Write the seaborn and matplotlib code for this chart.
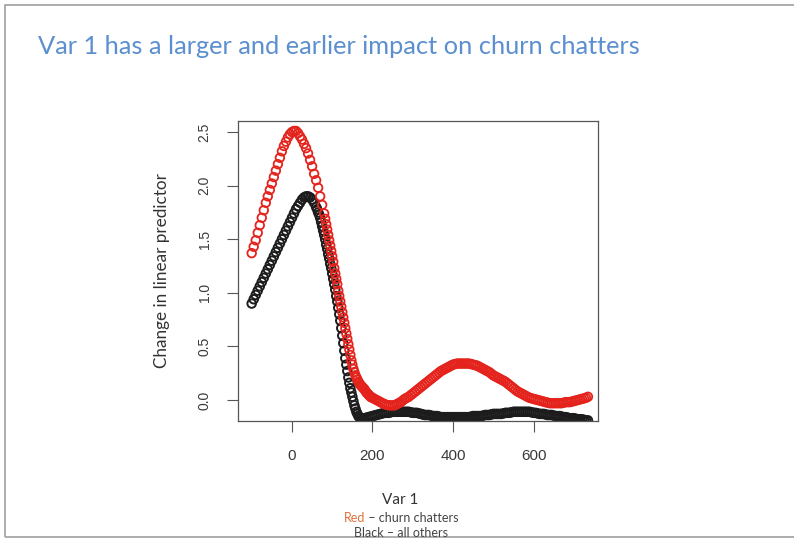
import numpy as np
import pandas as pd
import matplotlib
matplotlib.use('Agg')
import matplotlib.pyplot as plt
import seaborn as sns
from matplotlib.patches import Rectangle

# red = churn chatters, black = all others
red_x = [-100, -95, -90, -85, -80, -75, -70, -65, -60, -55, -50, -45, -40, -35, -30, -25, -20, -15,
         -10, -5, 0, 5, 10, 15, 20, 25, 30, 35, 40, 45, 50, 55, 60, 65, 70, 75,
         80, 82.5, 85, 87.5, 90, 92.5, 95, 97.5, 100, 102.5, 105, 107.5, 110, 112.5, 115, 117.5,
         120, 122.5, 125, 127.5, 130, 132.5, 135, 137.5, 140, 142.5, 145, 147.5, 150, 152.5, 155, 157.5,
         160, 162.5, 165, 167.5, 170, 172.5, 175, 177.5, 180, 182.5, 185, 187.5, 190, 192.5, 195, 197.5,
         200, 205, 210, 215, 220, 225, 230, 235, 240, 245, 250, 255,
         260, 265, 270, 275, 280, 285, 290, 295, 300, 305, 310, 315,
         320, 325, 330, 335, 340, 345, 350, 355, 360, 365, 370, 375,
         380, 385, 390, 395, 400, 405, 410, 415, 420, 425, 430, 435,
         440, 445, 450, 455, 460, 465, 470, 475, 480, 485, 490, 495,
         500, 505, 510, 515, 520, 525, 530, 535, 540, 545, 550, 555,
         560, 565, 570, 575, 580, 585, 590, 595, 600, 605, 610, 615,
         620, 625, 630, 635, 640, 645, 650, 655, 660, 665, 670, 675,
         680, 685, 690, 695, 700, 705, 710, 715, 720, 725, 730, 735]
red_y = [1.37, 1.43, 1.49, 1.56, 1.63, 1.70, 1.77, 1.84, 1.90, 1.96, 2.02, 2.08, 2.14, 2.20, 2.26, 2.32, 2.37, 2.41,
         2.45, 2.48, 2.50, 2.51, 2.51, 2.49, 2.46, 2.43, 2.39, 2.35, 2.30, 2.24, 2.18, 2.11, 2.05, 1.98, 1.90, 1.82,
         1.74, 1.69, 1.64, 1.59, 1.54, 1.49, 1.44, 1.39, 1.34, 1.29, 1.23, 1.18, 1.13, 1.08, 1.02, 0.97,
         0.92, 0.87, 0.82, 0.77, 0.72, 0.67, 0.62, 0.57, 0.52, 0.47, 0.42, 0.37, 0.33, 0.29, 0.26, 0.23,
         0.21, 0.19, 0.17, 0.155, 0.14, 0.13, 0.12, 0.11, 0.10, 0.085, 0.07, 0.06, 0.05, 0.04, 0.03, 0.025,
         0.02, 0.01, 0.00, -0.01, -0.02, -0.03, -0.04, -0.045, -0.05, -0.05, -0.05, -0.05,
         -0.04, -0.03, -0.02, -0.005, 0.01, 0.02, 0.03, 0.045, 0.06, 0.075, 0.09, 0.105,
         0.12, 0.135, 0.15, 0.165, 0.18, 0.195, 0.21, 0.225, 0.24, 0.255, 0.27, 0.28,
         0.29, 0.30, 0.31, 0.32, 0.33, 0.335, 0.34, 0.34, 0.34, 0.34, 0.34, 0.34,
         0.34, 0.335, 0.33, 0.325, 0.32, 0.31, 0.30, 0.29, 0.28, 0.27, 0.26, 0.245,
         0.23, 0.22, 0.21, 0.20, 0.19, 0.18, 0.17, 0.155, 0.14, 0.125, 0.11, 0.095,
         0.08, 0.07, 0.06, 0.05, 0.04, 0.03, 0.02, 0.015, 0.01, 0.005, 0.00, -0.005,
         -0.01, -0.015, -0.02, -0.025, -0.03, -0.03, -0.03, -0.03, -0.03, -0.03, -0.03, -0.025,
         -0.02, -0.02, -0.02, -0.015, -0.01, -0.005, 0.00, 0.005, 0.01, 0.015, 0.02, 0.03]

black_x = [-100, -95, -90, -85, -80, -75, -70, -65, -60, -55, -50, -45, -40, -35, -30, -25, -20, -15,
           -10, -5, 0, 5, 10, 15, 20, 25, 30, 35, 40, 45, 50, 55,
           60, 62.5, 65, 67.5, 70, 72.5, 75, 77.5, 80, 82.5, 85, 87.5, 90, 92.5, 95, 97.5,
           100, 102.5, 105, 107.5, 110, 112.5, 115, 117.5, 120, 122.5, 125, 127.5, 130, 132.5, 135, 137.5,
           140, 142.5, 145, 147.5, 150, 152.5, 155, 157.5, 160, 162.5, 165, 167.5, 170, 172.5, 175, 177.5,
           180, 185, 190, 195, 200, 205, 210, 215, 220, 225, 230, 235,
           240, 245, 250, 255, 260, 265, 270, 275, 280, 285, 290, 295,
           300, 305, 310, 315, 320, 325, 330, 335, 340, 345, 350, 355,
           360, 365, 370, 375, 380, 385, 390, 395, 400, 405, 410, 415,
           420, 425, 430, 435, 440, 445, 450, 455, 460, 465, 470, 475,
           480, 485, 490, 495, 500, 505, 510, 515, 520, 525, 530, 535,
           540, 545, 550, 555, 560, 565, 570, 575, 580, 585, 590, 595,
           600, 605, 610, 615, 620, 625, 630, 635, 640, 645, 650, 655,
           660, 665, 670, 675, 680, 685, 690, 695, 700, 705, 710, 715,
           720, 725, 730, 735]
black_y = [0.90, 0.94, 0.98, 1.02, 1.06, 1.10, 1.14, 1.18, 1.22, 1.26, 1.30, 1.34, 1.38, 1.42, 1.46, 1.50, 1.54, 1.58,
           1.62, 1.66, 1.70, 1.74, 1.78, 1.81, 1.84, 1.87, 1.89, 1.90, 1.90, 1.89, 1.87, 1.84,
           1.80, 1.78, 1.75, 1.73, 1.70, 1.66, 1.62, 1.58, 1.54, 1.50, 1.45, 1.41, 1.36, 1.32, 1.27, 1.23,
           1.18, 1.13, 1.08, 1.03, 0.97, 0.92, 0.86, 0.80, 0.74, 0.67, 0.60, 0.53, 0.46, 0.39, 0.33, 0.27,
           0.21, 0.16, 0.11, 0.07, 0.03, -0.01, -0.05, -0.08, -0.11, -0.13, -0.15, -0.16, -0.17, -0.18, -0.18, -0.18,
           -0.17, -0.165, -0.16, -0.155, -0.15, -0.145, -0.14, -0.135, -0.13, -0.125, -0.12, -0.12,
           -0.12, -0.115, -0.11, -0.11, -0.11, -0.11, -0.11, -0.11, -0.11, -0.11, -0.11, -0.115,
           -0.12, -0.12, -0.12, -0.125, -0.13, -0.135, -0.14, -0.14, -0.14, -0.145, -0.15, -0.15,
           -0.15, -0.155, -0.16, -0.16, -0.16, -0.16, -0.16, -0.16, -0.16, -0.16, -0.16, -0.16,
           -0.16, -0.16, -0.16, -0.16, -0.16, -0.155, -0.15, -0.15, -0.15, -0.15, -0.15, -0.145,
           -0.14, -0.14, -0.14, -0.135, -0.13, -0.13, -0.13, -0.13, -0.13, -0.125, -0.12, -0.12,
           -0.12, -0.115, -0.11, -0.11, -0.11, -0.11, -0.11, -0.11, -0.11, -0.11, -0.11, -0.115,
           -0.12, -0.12, -0.125, -0.13, -0.13, -0.13, -0.135, -0.14, -0.14, -0.14, -0.145, -0.15,
           -0.15, -0.15, -0.155, -0.16, -0.16, -0.165, -0.17, -0.17, -0.17, -0.175, -0.18, -0.18,
           -0.18, -0.185, -0.19, -0.19]

x_ticks = [0, 200, 400, 600]
y_ticks = [0.0, 0.5, 1.0, 1.5, 2.0, 2.5]

red = pd.DataFrame({'var1': red_x, 'change': red_y})
black = pd.DataFrame({'var1': black_x, 'change': black_y})

sns.set_style('white')
plt.rcParams['font.family'] = ['Liberation Sans', 'DejaVu Sans']
slide_font = ['Lato', 'DejaVu Sans']

fig = plt.figure(figsize=(7.94, 5.40), dpi=100)
ax = fig.add_axes([238 / 794, 119 / 540, 360 / 794, 300 / 540])

sns.scatterplot(data=black, x='var1', y='change', ax=ax, marker='o', s=38,
                facecolor='none', edgecolor='#1c1c1c', linewidth=1.4, legend=False)
sns.scatterplot(data=red, x='var1', y='change', ax=ax, marker='o', s=38,
                facecolor='none', edgecolor='#e5231d', linewidth=1.3, legend=False)

ax.set_xlim(-134, 760)
ax.set_ylim(-0.196, 2.603)
ax.set_xticks(x_ticks)
ax.set_xticklabels([str(t) for t in x_ticks])
ax.set_yticks(y_ticks)
ax.set_yticklabels([f'{t:.1f}' for t in y_ticks], rotation=90, va='center')
ax.tick_params(axis='x', direction='out', length=8, width=0.8, color='#555555',
               labelsize=11, labelcolor='#3a3a3a', pad=12, bottom=True)
ax.tick_params(axis='y', direction='out', length=8, width=0.8, color='#555555',
               labelsize=10, labelcolor='#3a3a3a', pad=11, left=True)
for sp in ax.spines.values():
    sp.set_color('#555555')
    sp.set_linewidth(0.9)
ax.set_xlabel('')
ax.set_ylabel('Change in linear predictor', family=slide_font,
              fontsize=12.3, color='#333333', labelpad=20)

fig.text(38 / 794, 1 - 46 / 540, 'Var 1 has a larger and earlier impact on churn chatters',
         family=slide_font, fontsize=18.3, color='#5b8fd0', va='center', ha='left')
fig.text(400 / 794, 1 - 500 / 540, 'Var 1', family=slide_font,
         fontsize=11, color='#333333', ha='center', va='center')

# caption: "Red" coloured, rest grey, whole line centred
y1 = 1 - 518 / 540
probe = fig.text(401 / 794, y1, 'Red \u2013 churn chatters', family=slide_font,
                 fontsize=9, ha='center', va='center', alpha=0)
fig.canvas.draw()
rend = fig.canvas.get_renderer()
bb = probe.get_window_extent(rend)
probe.remove()
t_red = fig.text(bb.x0 / fig.bbox.width, y1, 'Red', family=slide_font,
                 fontsize=9, color='#e0703a', ha='left', va='center')
bb_red = t_red.get_window_extent(rend)
fig.text(bb_red.x1 / fig.bbox.width, y1, ' \u2013 churn chatters', family=slide_font,
         fontsize=9, color='#444444', ha='left', va='center')
fig.text(401 / 794, 1 - 533 / 540, 'Black \u2013 all others', family=slide_font,
         fontsize=9, color='#444444', ha='center', va='center')

# slide frame
fig.add_artist(Rectangle((5 / 794, 3 / 540), 1.0, 1 - 8 / 540, transform=fig.transFigure,
                         fill=False, edgecolor='#a0a0a0', linewidth=1.2))

fig.savefig('out.png', dpi=100)
